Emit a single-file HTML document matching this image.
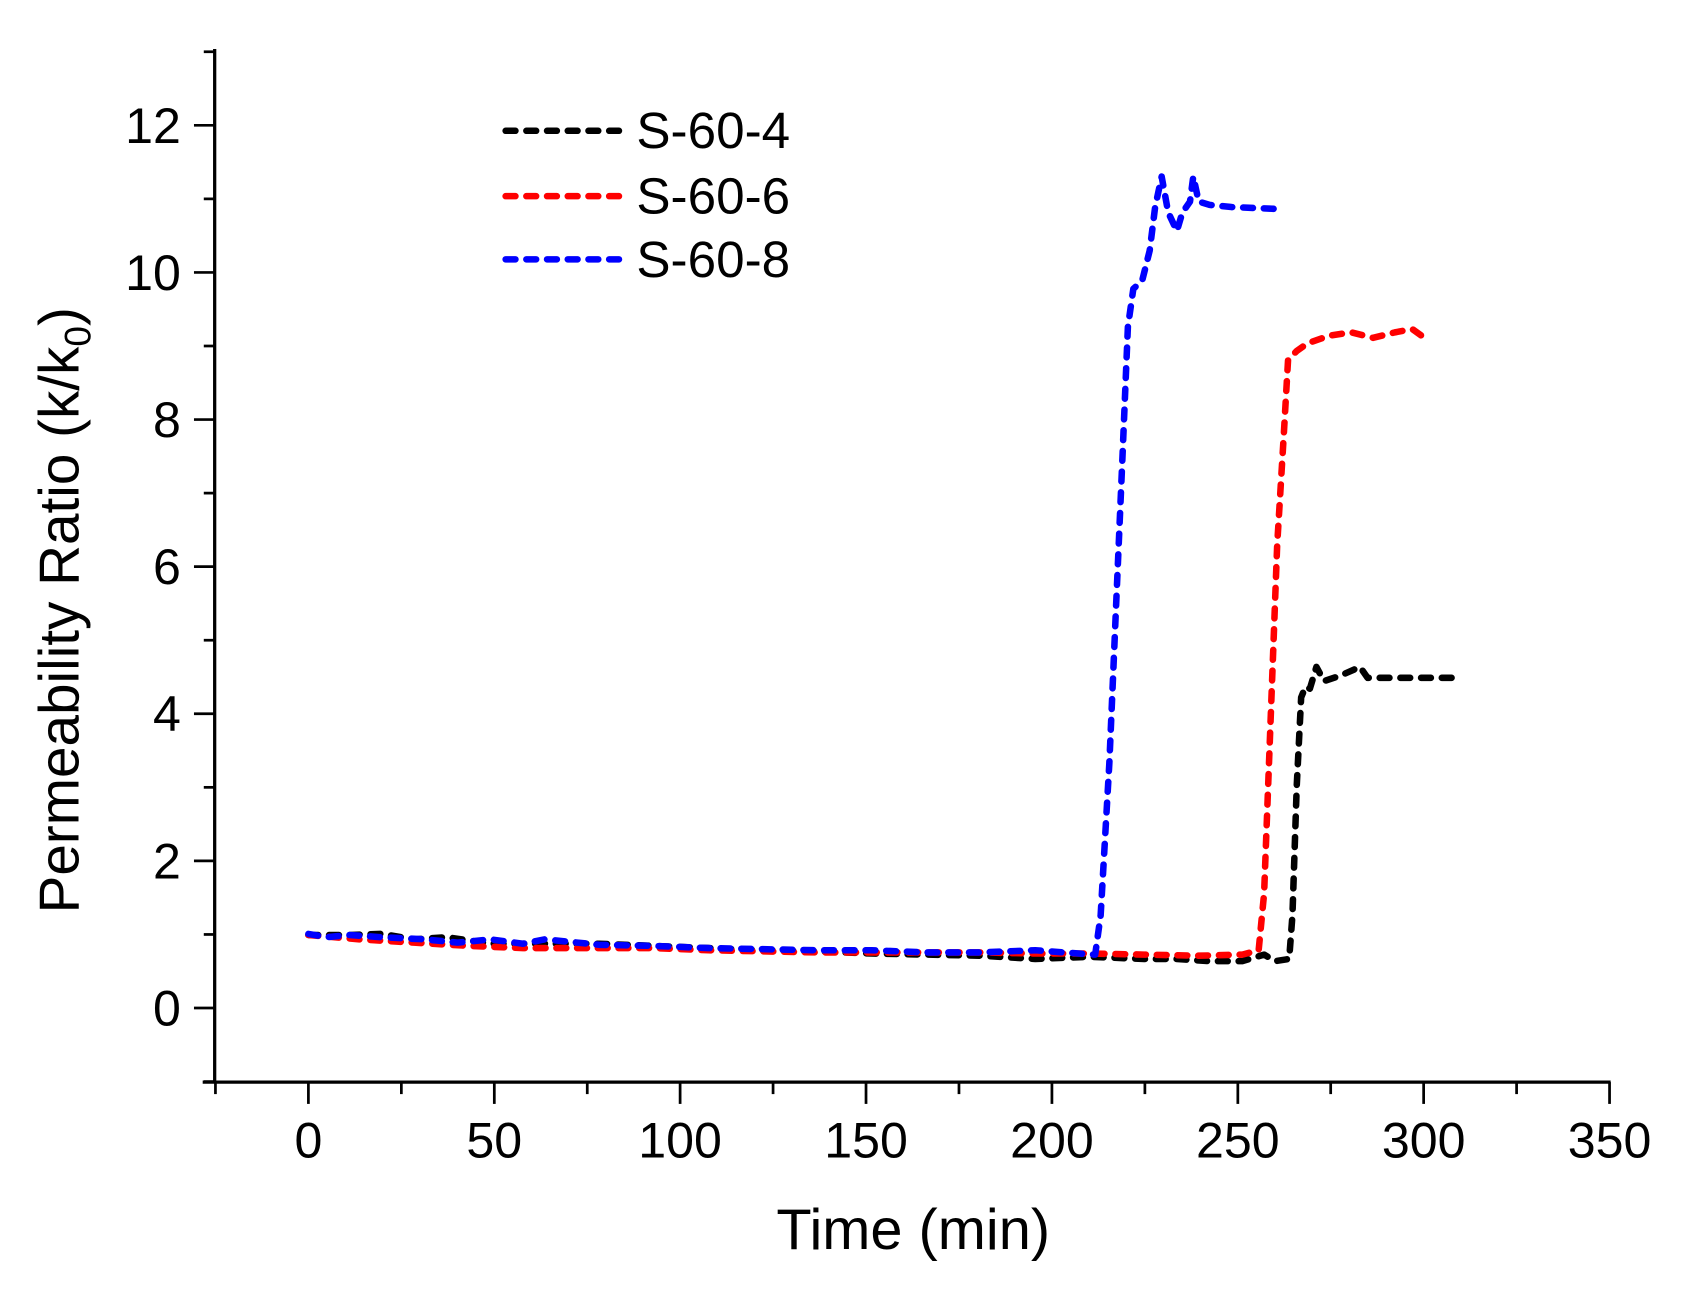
<!DOCTYPE html>
<html><head><meta charset="utf-8"><style>html,body{margin:0;padding:0;background:#fff}svg{display:block}</style></head>
<body>
<svg width="1700" height="1292" viewBox="0 0 1560 1185.6" xmlns="http://www.w3.org/2000/svg" font-family="Liberation Sans, Arial, sans-serif">
<rect width="1560" height="1186" fill="#fff"/>
<g stroke="#000" stroke-width="3" fill="none">
<line x1="197" y1="45" x2="197" y2="994"/>
<line x1="186" y1="993" x2="1478" y2="993"/>
</g>
<g stroke="#000" stroke-width="2.5">
<line x1="197.7" y1="993" x2="197.7" y2="1004"/>
<line x1="283" y1="993" x2="283" y2="1013"/>
<line x1="368.3" y1="993" x2="368.3" y2="1004"/>
<line x1="453.6" y1="993" x2="453.6" y2="1013"/>
<line x1="538.9" y1="993" x2="538.9" y2="1004"/>
<line x1="624.1" y1="993" x2="624.1" y2="1013"/>
<line x1="709.4" y1="993" x2="709.4" y2="1004"/>
<line x1="794.7" y1="993" x2="794.7" y2="1013"/>
<line x1="880" y1="993" x2="880" y2="1004"/>
<line x1="965.3" y1="993" x2="965.3" y2="1013"/>
<line x1="1050.6" y1="993" x2="1050.6" y2="1004"/>
<line x1="1135.9" y1="993" x2="1135.9" y2="1013"/>
<line x1="1221.1" y1="993" x2="1221.1" y2="1004"/>
<line x1="1306.4" y1="993" x2="1306.4" y2="1013"/>
<line x1="1391.7" y1="993" x2="1391.7" y2="1004"/>
<line x1="1477" y1="993" x2="1477" y2="1013"/>
<line x1="178" y1="925" x2="197" y2="925"/>
<line x1="178" y1="790" x2="197" y2="790"/>
<line x1="178" y1="655" x2="197" y2="655"/>
<line x1="178" y1="520" x2="197" y2="520"/>
<line x1="178" y1="385" x2="197" y2="385"/>
<line x1="178" y1="250" x2="197" y2="250"/>
<line x1="178" y1="115" x2="197" y2="115"/>
<line x1="187" y1="992.5" x2="197" y2="992.5"/>
<line x1="187" y1="857.5" x2="197" y2="857.5"/>
<line x1="187" y1="722.5" x2="197" y2="722.5"/>
<line x1="187" y1="587.5" x2="197" y2="587.5"/>
<line x1="187" y1="452.5" x2="197" y2="452.5"/>
<line x1="187" y1="317.5" x2="197" y2="317.5"/>
<line x1="187" y1="182.5" x2="197" y2="182.5"/>
<line x1="187" y1="47.5" x2="197" y2="47.5"/>
</g>
<g font-size="46" text-anchor="middle" fill="#000">
<text x="283" y="1062">0</text><text x="453.6" y="1062">50</text><text x="624.1" y="1062">100</text><text x="794.7" y="1062">150</text><text x="965.3" y="1062">200</text><text x="1135.9" y="1062">250</text><text x="1306.4" y="1062">300</text><text x="1477" y="1062">350</text>
</g>
<g font-size="46" text-anchor="end" fill="#000">
<text x="166" y="941">0</text><text x="166" y="806">2</text><text x="166" y="671">4</text><text x="166" y="536">6</text><text x="166" y="401">8</text><text x="166" y="266">10</text><text x="166" y="131">12</text>
</g>
<text x="838" y="1146" font-size="53" text-anchor="middle">Time (min)</text>
<text transform="translate(72,560) rotate(-90)" font-size="52" text-anchor="middle">Permeability Ratio (k/k<tspan font-size="34" dy="11">0</tspan><tspan dy="-11">)</tspan></text>
<g fill="none" stroke-width="6" stroke-dasharray="9 10" stroke-linecap="round" stroke-linejoin="round">
<polyline stroke="#000" points="283,858 320,858 350,857 380,862 410,860 450,866 500,866 550,866 600,868 650,870 700,872 750,873 800,875 850,876 900,877 950,880 1000,878 1050,880 1080,880 1110,882 1140,882 1160,876 1170,882 1183,880 1186,840 1190,720 1194,640 1198,630 1202,632 1208,612 1215,625 1230,620 1248,612 1255,622 1300,622 1342,622"/>
<polyline stroke="#f00" points="283,858 330,862 380,865 430,868 480,870 540,870 600,870 650,872 700,873 750,874 800,874 850,874 900,874 950,875 1000,875 1050,876 1100,877 1140,876 1155,872 1160,820 1166,660 1172,500 1178,400 1182,330 1190,322 1200,315 1220,308 1240,305 1260,310 1280,305 1296,302 1310,312"/>
<polyline stroke="#00f" points="283,857 300,860 320,858 350,860 390,862 420,865 450,862 480,866 500,862 550,867 600,868 650,870 700,871 750,872 800,872 850,874 900,874 950,872 990,875 1005,876 1010,840 1018,700 1024,560 1030,420 1035,300 1040,265 1048,258 1055,230 1060,190 1066,162 1072,195 1080,212 1085,195 1092,185 1095,162 1100,185 1110,188 1130,190 1178,192"/>
<line x1="464" y1="120" x2="575" y2="120" stroke="#000"/>
<line x1="464" y1="180" x2="575" y2="180" stroke="#f00"/>
<line x1="464" y1="238" x2="575" y2="238" stroke="#00f"/>
</g>
<g font-size="47" fill="#000">
<text x="584" y="136">S-60-4</text><text x="584" y="196">S-60-6</text><text x="584" y="254">S-60-8</text>
</g>
</svg>
</body></html>
